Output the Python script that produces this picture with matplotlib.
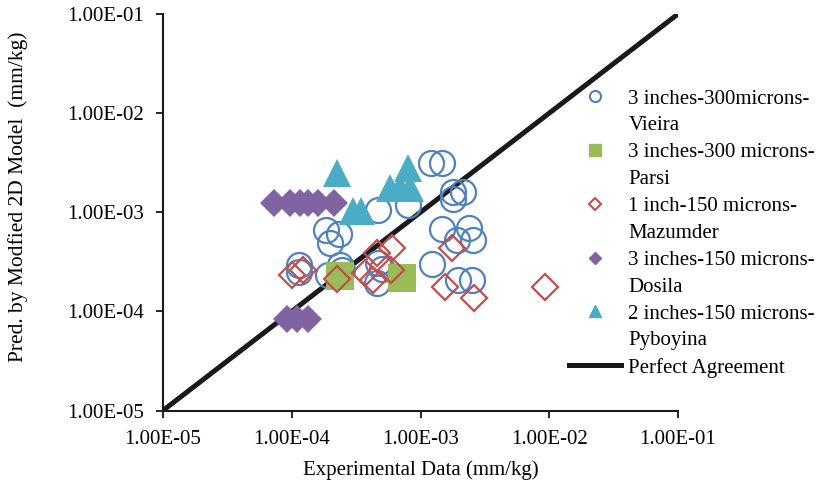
import matplotlib
matplotlib.use('Agg')
import matplotlib.pyplot as plt
from matplotlib.lines import Line2D
from matplotlib.ticker import FuncFormatter, LogLocator, NullLocator

plt.rcParams['font.family'] = ['Liberation Serif', 'DejaVu Serif']

# Vieira: 3 inches - 300 microns
vieira_x = [1.85e-4, 2.33e-4, 1.98e-4, 1.14e-4, 1.14e-4, 1.91e-4, 2.37e-4, 2.45e-4,
            4.68e-4, 8.0e-4, 4.68e-4, 5.0e-4, 4.59e-4, 1.21e-3, 1.47e-3, 1.79e-3,
            2.14e-3, 1.79e-3, 1.47e-3, 2.38e-3, 1.92e-3, 2.56e-3, 1.23e-3, 1.95e-3, 2.51e-3]
vieira_y = [6.6e-4, 6.0e-4, 4.9e-4, 2.93e-4, 2.5e-4, 2.32e-4, 2.93e-4, 2.61e-4,
            1.05e-3, 1.18e-3, 3.07e-4, 2.67e-4, 1.93e-4, 3.13e-3, 3.13e-3, 1.6e-3,
            1.6e-3, 1.36e-3, 6.76e-4, 6.93e-4, 5.24e-4, 5.24e-4, 3.0e-4, 2.07e-4, 2.07e-4]

# Parsi: 3 inches - 300 microns
parsi_x = [2.37e-4, 7.18e-4]
parsi_y = [2.27e-4, 2.17e-4]

# Mazumder: 1 inch - 150 microns
mazumder_x = [1.0e-4, 1.22e-4, 2.24e-4, 3.71e-4, 4.28e-4, 4.59e-4, 6.02e-4, 5.9e-4,
              1.76e-3, 1.55e-3, 2.61e-3, 9.27e-3]
mazumder_y = [2.32e-4, 2.61e-4, 2.12e-4, 2.43e-4, 2.07e-4, 3.87e-4, 4.35e-4, 2.61e-4,
              4.35e-4, 1.76e-4, 1.36e-4, 1.76e-4]

# Dosila: 3 inches - 150 microns
dosila_x = [7.28e-5, 9.69e-5, 1.16e-4, 1.34e-4, 1.60e-4, 2.13e-4, 9.18e-5, 1.10e-4, 1.34e-4]
dosila_y = [1.24e-3, 1.24e-3, 1.24e-3, 1.24e-3, 1.24e-3, 1.24e-3, 8.36e-5, 8.36e-5, 8.36e-5]

# Pyboyina: 2 inches - 150 microns
pyboyina_x = [2.24e-4, 2.99e-4, 3.45e-4, 5.79e-4, 6.93e-4, 8.28e-4, 8.0e-4]
pyboyina_y = [2.46e-3, 1.03e-3, 1.03e-3, 1.77e-3, 1.77e-3, 1.77e-3, 2.82e-3]

agreement = [1e-5, 1e-1]

labels = ['3 inches-300microns-\nVieira', '3 inches-300 microns-\nParsi',
          '1 inch-150 microns-\nMazumder', '3 inches-150 microns-\nDosila',
          '2 inches-150 microns-\nPyboyina', 'Perfect Agreement']

blue = '#4F81BD'
green = '#9BBB59'
red = '#C0504D'
purple = '#8064A2'
aqua = '#4BACC6'

fig = plt.figure(figsize=(8.19, 4.86), dpi=100)
ax = fig.add_axes([163 / 819, 1 - 410.5 / 486, (678 - 163) / 819, (410.5 - 14) / 486])

ax.plot(agreement, agreement, color='#1a1a1a', lw=3.6, zorder=1, solid_capstyle='butt')
ax.plot(vieira_x, vieira_y, 'o', ms=18, mfc='none', mec=blue, mew=1.6, zorder=2)
ax.plot(parsi_x, parsi_y, 's', ms=20, mfc=green, mec=green, mew=0, zorder=3)
ax.plot(mazumder_x, mazumder_y, 'D', ms=13.5, mfc='none', mec=red, mew=1.6, zorder=4)
ax.plot(dosila_x, dosila_y, 'D', ms=14, mfc=purple, mec=purple, mew=0, zorder=5)
ax.plot(pyboyina_x, pyboyina_y, '^', ms=20, mfc=aqua, mec=aqua, mew=0, zorder=6)

ax.set_xscale('log')
ax.set_yscale('log')
ax.set_xlim(1e-5, 1e-1)
ax.set_ylim(1e-5, 1e-1)
fmt = FuncFormatter(lambda v, p: f'{v:.2E}')
for axis in (ax.xaxis, ax.yaxis):
    axis.set_major_locator(LogLocator(base=10, numticks=10))
    axis.set_minor_locator(NullLocator())
    axis.set_major_formatter(fmt)
ax.tick_params(axis='both', direction='out', length=5, width=1.2, labelsize=15)
ax.tick_params(axis='x', pad=9)
ax.tick_params(axis='y', pad=9)
ax.spines['top'].set_visible(False)
ax.spines['right'].set_visible(False)
for s in ('left', 'bottom'):
    ax.spines[s].set_linewidth(1.5)
    ax.spines[s].set_color('#1a1a1a')

ax.set_xlabel('Experimental Data (mm/kg)', fontsize=15, labelpad=8)
ax.set_ylabel('Pred. by Modfied 2D Model  (mm/kg)', fontsize=15.5)
ax.yaxis.set_label_coords(-0.262, 0.54)

# legend: marker beside the first line of each two-line label
blank = Line2D([], [], linestyle='none')
handles = [
    Line2D([], [], marker='o', ls='none', ms=8, mfc='none', mec=blue, mew=1.5), blank,
    Line2D([], [], marker='s', ls='none', ms=8, mfc=green, mec=green), blank,
    Line2D([], [], marker='D', ls='none', ms=6, mfc='none', mec=red, mew=1.5), blank,
    Line2D([], [], marker='D', ls='none', ms=6.5, mfc=purple, mec=purple), blank,
    Line2D([], [], marker='^', ls='none', ms=8.5, mfc=aqua, mec=aqua), blank,
    Line2D([], [], color='#1a1a1a', lw=3.6),
]
texts = []
for lab in labels:
    texts.extend(lab.split('\n'))
fig.legend(handles, texts, loc='upper left', bbox_to_anchor=(569 / 819, 1 - 89 / 486),
           frameon=False, fontsize=15, handlelength=2.5, handletextpad=0.35,
           labelspacing=0.35, borderpad=0, borderaxespad=0)

fig.savefig('out.png', dpi=100)
